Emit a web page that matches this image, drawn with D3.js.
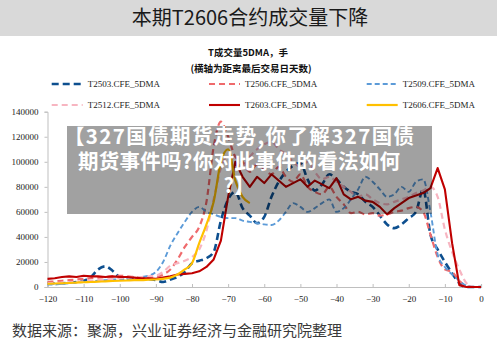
<!DOCTYPE html>
<html>
<head>
<meta charset="utf-8">
<script src="https://cdn.jsdelivr.net/npm/d3@7"></script>
<style>
  html, body { margin: 0; padding: 0; background: #fff; }
  svg { display: block; }
</style>
</head>
<body>
<svg id="chart" width="500" height="341"></svg>
<script>
// Days before the last trading day
const days = [-120,-118,-116,-114,-112,-110,-108,-106,-104,-102,-100,-98,-96,-94,-92,-90,-88,-86,-84,-82,
  -80,-78,-76,-74,-72,-70,-68,-66,-64,-62,-60,-58,-56,-54,-52,-50,-48,-46,-44,-42,
  -40,-38,-36,-34,-32,-30,-28,-26,-24,-22,-20,-18,-16,-14,-12,-10,-8,-6,-4,-2,0];

// 5-day moving average of volume (lots), one value per day above
const t2503 = [3000,3000,3000,3500,4000,5000,8000,14000,16500,13000,8000,7000,7500,7000,6500,5500,4000,6000,8000,12000,
  19000,21000,23000,28000,53000,70000,76000,63000,57000,51000,56000,72000,84000,92000,97000,99000,86000,77000,82000,90000,
  86000,80000,76000,74000,68000,64000,57000,50000,47000,50000,55000,60000,78000,42000,30000,20000,11000,3000,0,0,0];
const t2506 = [4000,4500,5000,5500,6000,6500,7000,7500,8000,8500,9000,8500,8000,8000,7500,8000,10000,14000,22000,32000,
  40000,48000,68000,112000,132000,120000,104000,100000,92000,98000,94000,90000,96000,88000,84000,90000,80000,76000,74000,80000,
  72000,66000,59000,60000,58000,59000,57000,58000,60000,61000,63000,64000,60000,42000,24000,14000,12000,5000,500,0,0];
const t2509 = [2000,2000,2500,3000,3500,4000,4500,5000,5500,6000,6000,6500,7000,8000,9000,12000,20000,33000,43000,52000,
  60000,64000,60000,58000,56000,55000,55000,53000,52000,51000,50000,49500,53000,60000,67000,64000,60000,63000,67000,70000,
  60000,63000,70000,78000,88000,84000,78000,72000,74000,80000,76000,84000,86000,60000,26000,16000,10000,5000,1000,0,0];
const t2512 = [3000,3200,3500,3800,4000,4500,5000,5500,6000,6500,7000,7500,8000,8000,8500,9000,12000,17000,19000,21000,
  24000,30000,45000,70000,95000,105000,100000,96000,104000,110000,114000,116000,110000,106000,100000,96000,100000,92000,86000,88000,
  84000,80000,76000,72000,74000,70000,67000,66000,68000,70000,72000,75000,77000,80000,72000,46000,28000,14000,3000,0,0];
const t2603 = [6500,7000,8000,8500,8000,9000,8500,8500,8000,8500,8000,8000,7500,7000,7000,6500,7500,8500,10000,10500,
  11000,12500,16000,22000,37000,72000,100000,88000,80000,88000,83000,90000,85000,80000,83000,86000,80000,85000,82000,79000,
  87000,74000,70000,72000,69000,68000,64000,58000,63000,67000,71000,73000,75000,79000,95000,78000,35000,1500,0,0,0];
const t2606 = [2500,2800,3000,3200,3500,3800,4000,4300,4500,4800,5000,5200,5500,5500,5800,6000,6500,7500,10000,14000,
  19000,35000,50000,68000,100000,110000,85000,72000,67000,null,null,null,null,null,null,null,null,null,null,null,
  null,null,null,null,null,null,null,null,null,null,null,null,null,null,null,null,null,null,null,null,null];

const seriesNames = ["T2503.CFE_5DMA","T2506.CFE_5DMA","T2509.CFE_5DMA","T2512.CFE_5DMA","T2603.CFE_5DMA","T2606.CFE_5DMA"];
const seriesValues = [t2503, t2506, t2509, t2512, t2603, t2606];

const xTicks = [-120,-110,-100,-90,-80,-70,-60,-50,-40,-30,-20,-10,0];
const yTicks = [0,20000,40000,60000,80000,100000,120000,140000];

const titleText = "本期T2606合约成交量下降";
const subTitle1 = "T成交量5DMA，手";
const subTitle2 = "(横轴为距离最后交易日天数)";
const sourceText = "数据来源：聚源，兴业证券经济与金融研究院整理";
const bannerLines = ["【327国债期货走势,你了解327国债", "期货事件吗?你对此事件的看法如何", "?】"];

// Per-series styling
const styles = [
  {color: "#0d4f8f", width: 2.6, dash: "7,4", curve: d3.curveMonotoneX},
  {color: "#ef6a6c", width: 2.2, dash: "6,4", curve: d3.curveMonotoneX},
  {color: "#5c9bd8", width: 1.9, dash: "5,3", curve: d3.curveMonotoneX},
  {color: "#f7b5c1", width: 2.2, dash: "6,4", curve: d3.curveMonotoneX},
  {color: "#c00000", width: 2.1, dash: null, curve: d3.curveLinear},
  {color: "#ffc000", width: 2.2, dash: null, curve: d3.curveMonotoneX}
];

const svg = d3.select("#chart");
const serif = "'Liberation Serif','Times New Roman',serif";
const cjk = "'Noto Sans CJK SC','Noto Sans',sans-serif";

// Title band
svg.append("rect").attr("x", 0).attr("y", 0).attr("width", 497).attr("height", 36).attr("fill", "#d9d9d9");
svg.append("text").attr("x", 250).attr("y", 25).attr("text-anchor", "middle")
  .attr("font-family", cjk).attr("font-size", 20).attr("fill", "#1a1a1a").text(titleText);

svg.append("text").attr("x", 248).attr("y", 55.5).attr("text-anchor", "middle")
  .attr("font-family", cjk).attr("font-weight", "bold").attr("font-size", 9.5).attr("fill", "#111").text(subTitle1);
svg.append("text").attr("x", 251).attr("y", 71.5).attr("text-anchor", "middle")
  .attr("font-family", cjk).attr("font-weight", "bold").attr("font-size", 9.5).attr("fill", "#111").text(subTitle2);

// Scales
const x = d3.scaleLinear().domain([-120, 0]).range([47.5, 481]);
const y = d3.scaleLinear().domain([0, 140000]).range([287, 111.7]);

// Axes
const xAxis = svg.append("g").attr("transform", "translate(0,287)")
  .call(d3.axisBottom(x).tickValues(xTicks).tickSize(-3).tickPadding(9).tickFormat(d3.format("d")));
xAxis.select(".domain").attr("stroke", "#bfbfbf").attr("stroke-width", 1.2);
xAxis.selectAll(".tick line").attr("stroke", "#bfbfbf");
xAxis.selectAll("text").attr("font-family", serif).attr("font-size", 9).attr("fill", "#222");

const yAxis = svg.append("g").attr("transform", "translate(47.5,0)")
  .call(d3.axisLeft(y).tickValues(yTicks).tickSize(3).tickPadding(6).tickFormat(d3.format("d")));
yAxis.select(".domain").attr("stroke", "#bfbfbf").attr("stroke-width", 1);
yAxis.selectAll(".tick line").attr("stroke", "#bfbfbf");
yAxis.selectAll("text").attr("font-family", serif).attr("font-size", 9).attr("fill", "#222");

// Series lines
seriesValues.forEach((vals, i) => {
  const st = styles[i];
  const line = d3.line()
    .defined(d => d.v != null)
    .x(d => x(d.day))
    .y(d => y(d.v))
    .curve(st.curve);
  const pts = days.map((day, j) => ({day, v: vals[j]}));
  svg.append("path").datum(pts)
    .attr("d", line)
    .attr("fill", "none")
    .attr("stroke", st.color)
    .attr("stroke-width", st.width)
    .attr("stroke-dasharray", st.dash)
    .attr("stroke-linejoin", "round");
});

// Legend: three columns, two rows
const legendCols = [51.7, 209, 366.7];
const legendRows = [84, 105];
seriesNames.forEach((name, i) => {
  const lx = legendCols[i % 3];
  const ly = legendRows[Math.floor(i / 3)];
  const st = styles[i];
  svg.append("line").attr("x1", lx).attr("x2", lx + 31).attr("y1", ly).attr("y2", ly)
    .attr("stroke", st.color).attr("stroke-width", st.width).attr("stroke-dasharray", st.dash);
  svg.append("text").attr("x", lx + 36).attr("y", ly + 3).attr("font-family", serif)
    .attr("font-size", 9).attr("fill", "#222").text(name);
});

// Banner overlay: one text block, wrapped over three lines
svg.append("rect").attr("x", 67).attr("y", 126).attr("width", 365).attr("height", 88)
  .attr("fill", "rgba(0,0,0,0.37)");
const bannerY = [144, 168.5, 192.5];
const bannerLen = [350, 322, null];
const banner = svg.append("text").attr("text-anchor", "middle")
  .attr("font-family", cjk).attr("font-weight", "bold").attr("font-size", 20.5)
  .attr("fill", "#ffffff");
bannerLines.forEach((t, i) => {
  const ts = banner.append("tspan").attr("x", 239).attr("y", bannerY[i]).text(t);
  if (bannerLen[i]) ts.attr("textLength", bannerLen[i]).attr("lengthAdjust", "spacing");
});

// Source note
svg.append("text").attr("x", 12).attr("y", 336).attr("font-family", cjk)
  .attr("font-size", 15).attr("fill", "#3a3a3a").text(sourceText);
</script>
</body>
</html>
